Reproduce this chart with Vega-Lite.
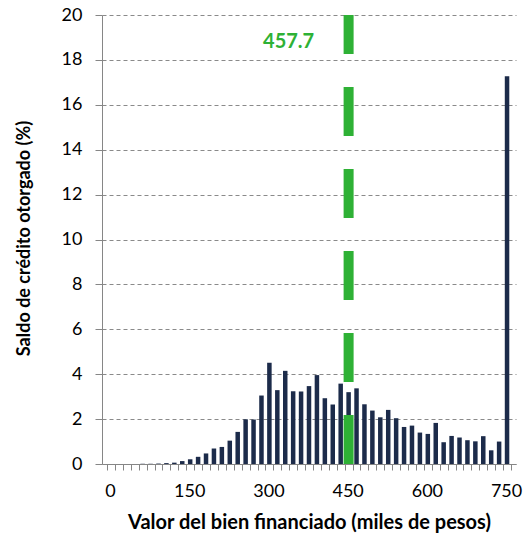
{
  "$schema": "https://vega.github.io/schema/vega-lite/v6.json",
  "width": 414,
  "height": 449,
  "autosize": "none",
  "padding": {"left": 102, "top": 15, "right": 16, "bottom": 71},
  "config": {
    "view": {"stroke": null},
    "font": "Lato",
    "background": "white",
    "axisX": {
      "labelOverlap": false,
      "labelFlush": false,
      "labelBound": false,
      "labelOffset": 3,
      "labelFontSize": 18,
      "labelColor": "#000000",
      "labelPadding": 12,
      "ticks": true,
      "tickSize": 6,
      "tickColor": "#868686",
      "domainColor": "#868686",
      "grid": false,
      "titleFontSize": 20,
      "titleFontWeight": "bold",
      "titleColor": "#000000",
      "titleBaseline": "middle",
      "titleY": 58
    },
    "axisY": {
      "labelFontSize": 18,
      "labelColor": "#000000",
      "labelPadding": 13,
      "tickSize": 7,
      "tickColor": "#868686",
      "domainColor": "#868686",
      "grid": true,
      "gridColor": "#8a8a8a",
      "gridDash": [4, 3],
      "titleFontSize": 18,
      "titleFontWeight": "bold",
      "titleColor": "#000000",
      "titleBaseline": "middle",
      "titleX": -78,
      "titleY": 223
    }
  },
  "datasets": {
    "bars": [
      {"valor": 0, "saldo": 0},
      {"valor": 15, "saldo": 0},
      {"valor": 30, "saldo": 0},
      {"valor": 45, "saldo": 0},
      {"valor": 60, "saldo": 0.01},
      {"valor": 75, "saldo": 0.01},
      {"valor": 90, "saldo": 0.02},
      {"valor": 105, "saldo": 0.04},
      {"valor": 120, "saldo": 0.06},
      {"valor": 135, "saldo": 0.13},
      {"valor": 150, "saldo": 0.21},
      {"valor": 165, "saldo": 0.32},
      {"valor": 180, "saldo": 0.47},
      {"valor": 195, "saldo": 0.69},
      {"valor": 210, "saldo": 0.76},
      {"valor": 225, "saldo": 1.04},
      {"valor": 240, "saldo": 1.43},
      {"valor": 255, "saldo": 1.99},
      {"valor": 270, "saldo": 1.98},
      {"valor": 285, "saldo": 3.05},
      {"valor": 300, "saldo": 4.51},
      {"valor": 315, "saldo": 3.29},
      {"valor": 330, "saldo": 4.15},
      {"valor": 345, "saldo": 3.24},
      {"valor": 360, "saldo": 3.23},
      {"valor": 375, "saldo": 3.47},
      {"valor": 390, "saldo": 3.96},
      {"valor": 405, "saldo": 2.93},
      {"valor": 420, "saldo": 2.65},
      {"valor": 435, "saldo": 3.58},
      {"valor": 450, "saldo": 3.2},
      {"valor": 465, "saldo": 3.37},
      {"valor": 480, "saldo": 2.66},
      {"valor": 495, "saldo": 2.38},
      {"valor": 510, "saldo": 2.08},
      {"valor": 525, "saldo": 2.41},
      {"valor": 540, "saldo": 2.04},
      {"valor": 555, "saldo": 1.65},
      {"valor": 570, "saldo": 1.71},
      {"valor": 585, "saldo": 1.4},
      {"valor": 600, "saldo": 1.34},
      {"valor": 615, "saldo": 1.83},
      {"valor": 630, "saldo": 0.97},
      {"valor": 645, "saldo": 1.25},
      {"valor": 660, "saldo": 1.18},
      {"valor": 675, "saldo": 1.06},
      {"valor": 690, "saldo": 1.01},
      {"valor": 705, "saldo": 1.24},
      {"valor": 720, "saldo": 0.61},
      {"valor": 735, "saldo": 1.0},
      {"valor": 750, "saldo": 17.27}
    ],
    "promedio": [{"valor": 450, "etiqueta": "457.7"}]
  },
  "layer": [
    {
      "data": {"name": "bars"},
      "mark": {"type": "bar", "color": "#1c2b4a", "size": 4.5},
      "encoding": {
        "x": {
          "field": "valor",
          "type": "quantitative",
          "scale": {"domain": [-7.5, 757.5], "nice": false, "zero": false},
          "axis": {
            "values": [-7.5, 7.5, 22.5, 37.5, 52.5, 67.5, 82.5, 97.5, 112.5, 127.5, 142.5, 157.5, 172.5, 187.5, 202.5, 217.5, 232.5, 247.5, 262.5, 277.5, 292.5, 307.5, 322.5, 337.5, 352.5, 367.5, 382.5, 397.5, 412.5, 427.5, 442.5, 457.5, 472.5, 487.5, 502.5, 517.5, 532.5, 547.5, 562.5, 577.5, 592.5, 607.5, 622.5, 637.5, 652.5, 667.5, 682.5, 697.5, 712.5, 727.5, 742.5, 757.5],
            "tickCount": 100,
            "labelExpr": "(datum.value + 7.5) % 150 == 0 && datum.value < 750 ? '' + (datum.value + 7.5) : ''",
            "labelOverlap": false,
            "title": "Valor del bien financiado (miles de pesos)"
          }
        },
        "y": {
          "field": "saldo",
          "type": "quantitative",
          "scale": {"domain": [0, 20], "nice": false},
          "axis": {
            "values": [0, 2, 4, 6, 8, 10, 12, 14, 16, 18, 20],
            "tickCount": 20,
            "title": "Saldo de crédito otorgado (%)"
          }
        }
      }
    },
    {
      "data": {"name": "promedio"},
      "mark": {"type": "rule", "color": "#2eb135", "strokeWidth": 10, "strokeDash": [49, 33]},
      "encoding": {
        "x": {"field": "valor", "type": "quantitative"},
        "y": {"datum": 0},
        "y2": {"datum": 20}
      }
    },
    {
      "data": {"name": "promedio"},
      "mark": {"type": "text", "color": "#2eb135", "fontSize": 20, "fontWeight": "bold", "dx": -60, "align": "center", "baseline": "middle"},
      "encoding": {
        "x": {"field": "valor", "type": "quantitative"},
        "y": {"datum": 18.8},
        "text": {"field": "etiqueta"}
      }
    }
  ]
}
